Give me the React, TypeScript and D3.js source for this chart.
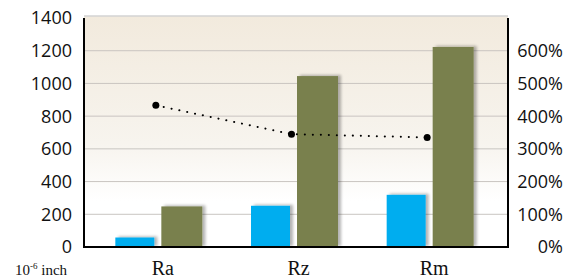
import * as d3 from 'd3'

const categories = ['Ra', 'Rz', 'Rm']
const blueValues = [58, 252, 319]
const greenValues = [248, 1045, 1223]
const ratioValues = [433, 345, 335]
const leftTicks = [0, 200, 400, 600, 800, 1000, 1200, 1400]
const rightTicks = [0, 100, 200, 300, 400, 500, 600]

const width = 579
const height = 279
const plot = { left: 84, right: 508, top: 18, bottom: 247 }

export default function App() {
  const x = d3.scaleBand<string>().domain(categories).range([90, 497]).padding(0)
  const y = d3.scaleLinear().domain([0, 1400]).range([plot.bottom, plot.top])
  const yPct = d3.scaleLinear().domain([0, 700]).range([plot.bottom, plot.top])

  const barW = 39
  const gap = 7

  const linePts = ratioValues.map((v, i) => [x(categories[i])! + x.bandwidth() / 2 - 2, yPct(v)] as [number, number])
  const line = d3.line()

  const sans = '"Open Sans", "DejaVu Sans", sans-serif'
  const serif = '"Liberation Serif", "DejaVu Serif", serif'

  return (
    <svg width={width} height={height} style={{ position: 'absolute', left: 0, top: 0 }}>
      <defs>
        <linearGradient id="bg" x1="0" y1="0" x2="0" y2="1">
          <stop offset="0" stopColor="#f2eadd" />
          <stop offset="0.55" stopColor="#f7f4ee" />
          <stop offset="0.8" stopColor="#ffffff" />
          <stop offset="1" stopColor="#ffffff" />
        </linearGradient>
        <filter id="shadow" x="-20%" y="-10%" width="150%" height="130%">
          <feGaussianBlur in="SourceAlpha" stdDeviation="1.5" />
          <feOffset dx="3" dy="-1" result="b" />
          <feComponentTransfer>
            <feFuncA type="linear" slope="0.3" />
          </feComponentTransfer>
          <feMerge>
            <feMergeNode />
            <feMergeNode in="SourceGraphic" />
          </feMerge>
        </filter>
      </defs>

      <rect x={plot.left} y={plot.top - 2} width={plot.right - plot.left} height={plot.bottom - plot.top + 2} fill="url(#bg)" />

      {/* gridlines */}
      {leftTicks.slice(1, -1).map(t => (
        <line key={t} x1={plot.left} x2={plot.right} y1={y(t)} y2={y(t)} stroke="#c9c5c1" strokeWidth={1} />
      ))}
      <line x1={plot.left} x2={plot.right} y1={plot.top - 2} y2={plot.top - 2} stroke="#d3d3d3" strokeWidth={1.5} />

      {/* bars */}
      {categories.map((c, i) => {
        const cx = x(c)! + x.bandwidth() / 2
        return (
          <g key={c} filter="url(#shadow)">
            <rect x={cx - gap / 2 - barW} y={y(blueValues[i])} width={barW} height={plot.bottom - y(blueValues[i])} fill="#00adef" />
            <rect x={cx + gap / 2} y={y(greenValues[i])} width={barW + 2} height={plot.bottom - y(greenValues[i])} fill="#79804e" />
          </g>
        )
      })}

      {/* dotted ratio line */}
      <path d={line(linePts) ?? ''} fill="none" stroke="#000" strokeWidth={2} strokeDasharray="0.1,7.9" strokeLinecap="round" />
      {linePts.map((p, i) => (
        <circle key={i} cx={p[0]} cy={p[1]} r={3.5} fill="#000" />
      ))}

      {/* axes */}
      <line x1={plot.left} x2={plot.left} y1={plot.top} y2={plot.bottom + 1} stroke="#000" strokeWidth={2} />
      <line x1={plot.right} x2={plot.right} y1={plot.top} y2={plot.bottom + 1} stroke="#000" strokeWidth={2} />
      <line x1={plot.left} x2={plot.right + 1} y1={plot.bottom} y2={plot.bottom} stroke="#000" strokeWidth={2} />

      {leftTicks.map(t => (
        <text key={t} x={72} y={y(t)} dy="0.36em" textAnchor="end" fontFamily={sans} fontSize={18} fill="#111">
          {t}
        </text>
      ))}
      {rightTicks.map(t => (
        <text key={t} x={563} y={yPct(t)} dy="0.36em" textAnchor="end" fontFamily={sans} fontSize={18} fill="#111">
          {t}%
        </text>
      ))}

      {categories.map(c => (
        <text key={c} x={x(c)! + x.bandwidth() / 2 + 5} y={275} textAnchor="middle" fontFamily={serif} fontSize={20} fill="#111">
          {c}
        </text>
      ))}

      <text x={15} y={275} fontFamily={serif} fontSize={15} fill="#111">
        10<tspan dy={-6} fontSize={9}>-6</tspan><tspan dy={6}> inch</tspan>
      </text>
    </svg>
  )
}
